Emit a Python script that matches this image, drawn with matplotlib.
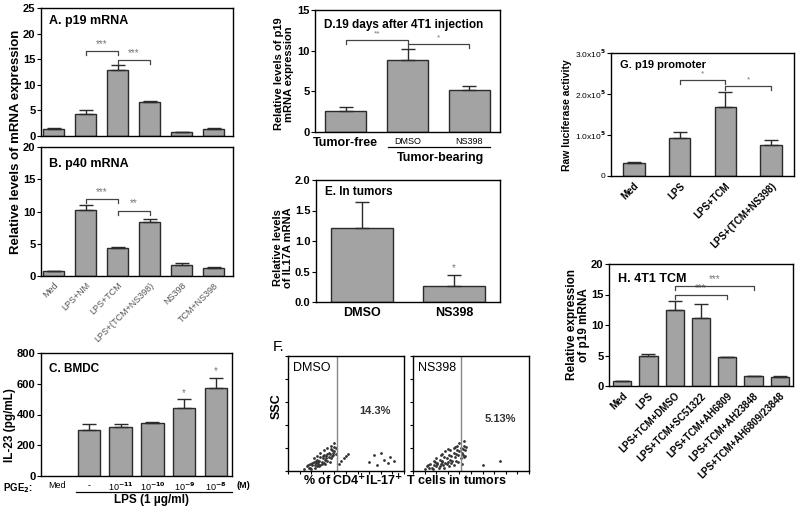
"""Multi-panel figure: p19 / p40 / IL-23 expression bar charts and flow plots."""

import numpy as np
import matplotlib
matplotlib.use("Agg")
import matplotlib.pyplot as plt
from matplotlib.lines import Line2D

plt.rcParams['font.family'] = ['Liberation Sans', 'DejaVu Sans']
plt.rcParams['font.weight'] = 'bold'
plt.rcParams['axes.linewidth'] = 1.0

W, H = 800, 512
BAR = '#a3a3a3'
EDGE = '#2b2b2b'
STAR = '#777777'

# ---- data ----
a_vals = [1.3, 4.3, 12.9, 6.6, 0.7, 1.3]
a_err = [0.3, 0.7, 1.0, 0.15, 0.1, 0.3]

b_labels = ['Med', 'LPS+NM', 'LPS+TCM', 'LPS+(TCM+NS398)', 'NS398', 'TCM+NS398']
b_vals = [0.8, 10.3, 4.3, 8.3, 1.7, 1.2]
b_err = [0.05, 0.7, 0.25, 0.5, 0.25, 0.15]

c_labels = ['Med', '-', '10$^{-11}$', '10$^{-10}$', '10$^{-9}$', '10$^{-8}$']
c_vals = [np.nan, 300, 320, 345, 440, 570]
c_err = [np.nan, 40, 17, 5, 60, 70]

d_labels = ['Tumor-free', 'DMSO', 'NS398']
d_vals = [2.6, 8.8, 5.2]
d_err = [0.5, 1.4, 0.4]

e_labels = ['DMSO', 'NS398']
e_vals = [1.22, 0.27]
e_err = [0.42, 0.17]

# flow cytometry dots (percent of plot width / height)
dmso_x = [14, 16, 18, 19, 20, 21, 22, 23, 24, 25, 25, 26, 27, 28, 28, 29, 30, 31, 31, 32,
          33, 34, 35, 35, 36, 37, 38, 39, 40, 41, 44, 46, 48, 50, 52,
          70, 74, 77, 80, 83, 86, 88, 91,
          17, 19, 21, 23, 24, 26, 27, 29, 30, 32, 33, 34, 36, 37, 38, 39, 40, 41,
          22, 25, 28, 31, 34, 37, 40]
dmso_y = [2, 4, 3, 6, 2, 5, 8, 3, 7, 4, 10, 6, 9, 5, 12, 8, 11, 7, 14, 10,
          13, 9, 16, 12, 15, 11, 18, 14, 17, 20, 6, 9, 11, 13, 15,
          8, 14, 5, 16, 10, 7, 12, 9,
          5, 3, 7, 5, 9, 8, 4, 6, 13, 6, 11, 15, 8, 19, 13, 16, 21, 15,
          11, 13, 16, 18, 20, 22, 24]
ns_x = [10, 12, 14, 15, 17, 18, 19, 20, 21, 22, 23, 24, 25, 26, 27, 28, 29, 30, 31, 32,
        33, 34, 35, 36, 37, 38, 39, 40, 41, 42, 43, 44, 45, 46,
        20, 25, 30, 35, 38, 42, 44, 60, 75,
        13, 16, 18, 21, 23, 25, 27, 29, 31, 33, 35, 37, 39, 41, 43, 45,
        24, 28, 32, 36, 40, 44]
ns_y = [2, 4, 3, 6, 2, 5, 8, 4, 7, 3, 10, 6, 9, 5, 12, 7, 11, 8, 14, 10,
        13, 9, 16, 12, 15, 18, 14, 17, 20, 16, 19, 22, 18, 21,
        11, 15, 19, 20, 22, 6, 12, 5, 9,
        5, 3, 9, 6, 4, 8, 3, 6, 4, 7, 5, 9, 8, 11, 14, 13,
        14, 17, 18, 21, 24, 26]

g_labels = ['Med', 'LPS', 'LPS+TCM', 'LPS+(TCM+NS398)']
g_vals = [0.32e5, 0.92e5, 1.68e5, 0.76e5]
g_err = [0.03e5, 0.15e5, 0.37e5, 0.12e5]

h_labels = ['Med', 'LPS', 'LPS+TCM+DMSO', 'LPS+TCM+SC51322', 'LPS+TCM+AH6809',
            'LPS+TCM+AH23848', 'LPS+TCM+AH6809/23848']
h_vals = [0.75, 4.9, 12.5, 11.1, 4.7, 1.6, 1.5]
h_err = [0.1, 0.3, 1.5, 2.4, 0.1, 0.05, 0.1]


fig = plt.figure(figsize=(W / 100, H / 100), dpi=100)


def px_ax(x0, y0, x1, y1):
    return fig.add_axes([x0 / W, 1 - y1 / H, (x1 - x0) / W, (y1 - y0) / H])


def bars(ax, vals, errs, width):
    x = np.arange(len(vals))
    ax.bar(x, vals, width=width, color=BAR, edgecolor=EDGE, linewidth=1.0, zorder=2)
    ax.errorbar(x, vals, yerr=[np.zeros(len(vals)), errs], fmt='none',
                ecolor=EDGE, elinewidth=1.0, capsize=5, capthick=1.0, zorder=3)
    ax.set_xticks(x)
    ax.tick_params(axis='x', length=0)
    ax.tick_params(axis='y', direction='out', length=3, labelsize=8, pad=1)
    return x


def bracket(ax, x1, x2, y, drop, text, fs=7):
    ax.plot([x1, x1, x2, x2], [y - drop, y, y, y - drop], color='#444444', lw=0.9,
            zorder=4, clip_on=False)
    ax.text((x1 + x2) / 2, y + drop * 0.6, text, ha='center', va='bottom',
            fontsize=fs, color=STAR, fontweight='normal')


def fig_text(x, y, s, **kw):
    fig.text(x / W, 1 - y / H, s, **kw)


# ---- A ----
axA = px_ax(41, 8, 233, 136)
bars(axA, a_vals, a_err, 0.66)
axA.set_xlim(-0.4, 5.6)
axA.set_ylim(0, 25)
axA.set_yticks([0, 5, 10, 15, 20, 25])
axA.set_xticklabels([])
axA.text(0.04, 0.9, 'A. p19 mRNA', transform=axA.transAxes, fontsize=9, va='center')
bracket(axA, 1, 2, 16.6, 0.7, '***')
bracket(axA, 2, 3, 14.8, 0.7, '***')

# ---- B ----
axB = px_ax(41, 147, 233, 276)
bars(axB, b_vals, b_err, 0.66)
axB.set_xlim(-0.4, 5.6)
axB.set_ylim(0, 20)
axB.set_yticks([0, 5, 10, 15, 20])
axB.set_xticklabels(b_labels, rotation=45, ha='right', rotation_mode='anchor',
                    fontsize=6.5, fontweight='normal', color='#555555')
axB.text(0.04, 0.87, 'B. p40 mRNA', transform=axB.transAxes, fontsize=9, va='center')
bracket(axB, 1, 2, 11.9, 0.6, '***')
bracket(axB, 2, 3, 10.1, 0.6, '**')

fig_text(16, 142, 'Relative levels of mRNA expression', rotation=90,
         ha='center', va='center', fontsize=9.5)

# ---- C ----
axC = px_ax(41, 353, 232, 476)
bars(axC, c_vals, c_err, 0.7)
axC.set_xlim(-0.5, 5.5)
axC.set_ylim(0, 800)
axC.set_yticks([0, 200, 400, 600, 800])
axC.set_xticklabels(c_labels, fontsize=6.5, fontweight='normal')
axC.text(0.04, 0.87, 'C. BMDC', transform=axC.transAxes, fontsize=8.5, va='center')
for i in (4, 5):
    axC.text(i, c_vals[i] + c_err[i] + 10, '*', ha='center', va='bottom',
             fontsize=7, color=STAR, fontweight='normal')
fig_text(18, 488, 'PGE$_2$:', ha='center', va='center', fontsize=7)
fig_text(243, 486, '(M)', ha='center', va='center', fontsize=6.5)
fig.add_artist(Line2D([76 / W, 232 / W], [1 - 492 / H, 1 - 492 / H], color='black', lw=0.9))
fig_text(152, 500, 'LPS (1 µg/ml)', ha='center', va='center', fontsize=8.5)
fig_text(10, 425, 'IL-23 (pg/mL)', rotation=90, ha='center', va='center', fontsize=8.5)

# ---- D ----
axD = px_ax(315, 10, 500, 132)
bars(axD, d_vals, d_err, 0.67)
axD.set_xlim(-0.5, 2.5)
axD.set_ylim(0, 15)
axD.set_yticks([0, 5, 10, 15])
axD.set_xticklabels(d_labels)
for lab, fs in zip(axD.get_xticklabels(), [9, 6.5, 6.5]):
    lab.set_fontsize(fs)
    if fs < 8:
        lab.set_fontweight('normal')
axD.text(0.05, 0.88, 'D.19 days after 4T1 injection', transform=axD.transAxes,
         fontsize=8.5, va='center')
bracket(axD, 0, 1, 11.3, 0.5, '**', fs=6)
bracket(axD, 1, 2, 10.8, 0.5, '*', fs=6)
fig.add_artist(Line2D([388 / W, 490 / W], [1 - 147 / H, 1 - 147 / H], color='black', lw=0.9))
fig_text(440, 158, 'Tumor-bearing', ha='center', va='center', fontsize=9)
fig_text(284, 74, 'Relative levels of p19\nmRNA expression', rotation=90,
         ha='center', va='center', fontsize=8, linespacing=1.1)

# ---- E ----
axE = px_ax(316, 180, 500, 302)
bars(axE, e_vals, e_err, 0.67)
axE.set_xlim(-0.5, 1.5)
axE.set_ylim(0, 2.0)
axE.set_yticks([0.0, 0.5, 1.0, 1.5, 2.0])
axE.set_yticklabels(['0.0', '0.5', '1.0', '1.5', '2.0'])
axE.set_xticklabels(e_labels, fontsize=9)
axE.text(0.05, 0.9, 'E. In tumors', transform=axE.transAxes, fontsize=8.5, va='center')
axE.text(1, e_vals[1] + e_err[1] + 0.04, '*', ha='center', va='bottom',
         fontsize=7, color=STAR, fontweight='normal')
fig_text(283, 248, 'Relative levels\nof IL17A mRNA', rotation=90,
         ha='center', va='center', fontsize=8, linespacing=1.1)

# ---- F ----
fig_text(273, 347, 'F.', ha='left', va='center', fontsize=11, fontweight='normal')
for (x0, x1), name, pct, xs, ys, gate in [
        ((288, 404), 'DMSO', '14.3%', dmso_x, dmso_y, 42),
        ((413, 529), 'NS398', '5.13%', ns_x, ns_y, 41)]:
    axF = px_ax(x0, 356, x1, 471)
    axF.scatter(xs, ys, s=4, color='#333333', linewidths=0)
    axF.axvline(gate, color='#888888', lw=1.0)
    axF.set_xlim(0, 100)
    axF.set_ylim(0, 100)
    axF.set_xticks(np.arange(0, 101, 10))
    axF.set_yticks(np.arange(0, 101, 20))
    axF.tick_params(direction='out', length=2, labelleft=False, labelbottom=False)
    axF.text(0.04, 0.95, name, transform=axF.transAxes, fontsize=9, va='top',
             fontweight='normal')
    axF.text(0.75, 0.45 if name == 'NS398' else 0.52, pct, transform=axF.transAxes,
             fontsize=8, ha='center', va='center', color='#333333')
fig_text(277, 406, 'SSC', rotation=90, ha='center', va='center', fontsize=9)
fig_text(405, 481, '% of CD4$^{+}$IL-17$^{+}$ T cells in tumors', ha='center',
         va='center', fontsize=9)

# ---- G ----
axG = px_ax(611, 53, 794, 176)
bars(axG, g_vals, g_err, 0.47)
axG.set_xlim(-0.5, 3.5)
axG.set_ylim(0, 3.0e5)
axG.set_yticks([0, 1e5, 2e5, 3e5])
axG.set_yticklabels(['0', '1.0x10$^5$', '2.0x10$^5$', '3.0x10$^5$'], fontsize=6,
                    fontweight='normal')
axG.set_xticklabels(g_labels, rotation=45, ha='right', rotation_mode='anchor',
                    fontsize=7)
axG.text(0.05, 0.9, 'G. p19 promoter', transform=axG.transAxes, fontsize=8, va='center')
bracket(axG, 1, 2, 2.34e5, 0.1e5, '*', fs=6)
bracket(axG, 2, 3, 2.2e5, 0.1e5, '*', fs=6)
fig_text(567, 115, 'Raw luciferase activity', rotation=90, ha='center',
         va='center', fontsize=7.5)

# ---- H ----
axH = px_ax(609, 264, 793, 386)
bars(axH, h_vals, h_err, 0.7)
axH.set_xlim(-0.5, 6.5)
axH.set_ylim(0, 20)
axH.set_yticks([0, 5, 10, 15, 20])
axH.set_xticklabels(h_labels, rotation=45, ha='right', rotation_mode='anchor',
                    fontsize=7)
axH.text(0.05, 0.88, 'H. 4T1 TCM', transform=axH.transAxes, fontsize=9, va='center')
bracket(axH, 2, 5, 16.4, 0.6, '***')
bracket(axH, 2, 4, 14.9, 0.6, '***')
fig_text(578, 325, 'Relative expression\nof p19 mRNA', rotation=90,
         ha='center', va='center', fontsize=8.5, linespacing=1.1)

fig.savefig('out.png', dpi=100)
